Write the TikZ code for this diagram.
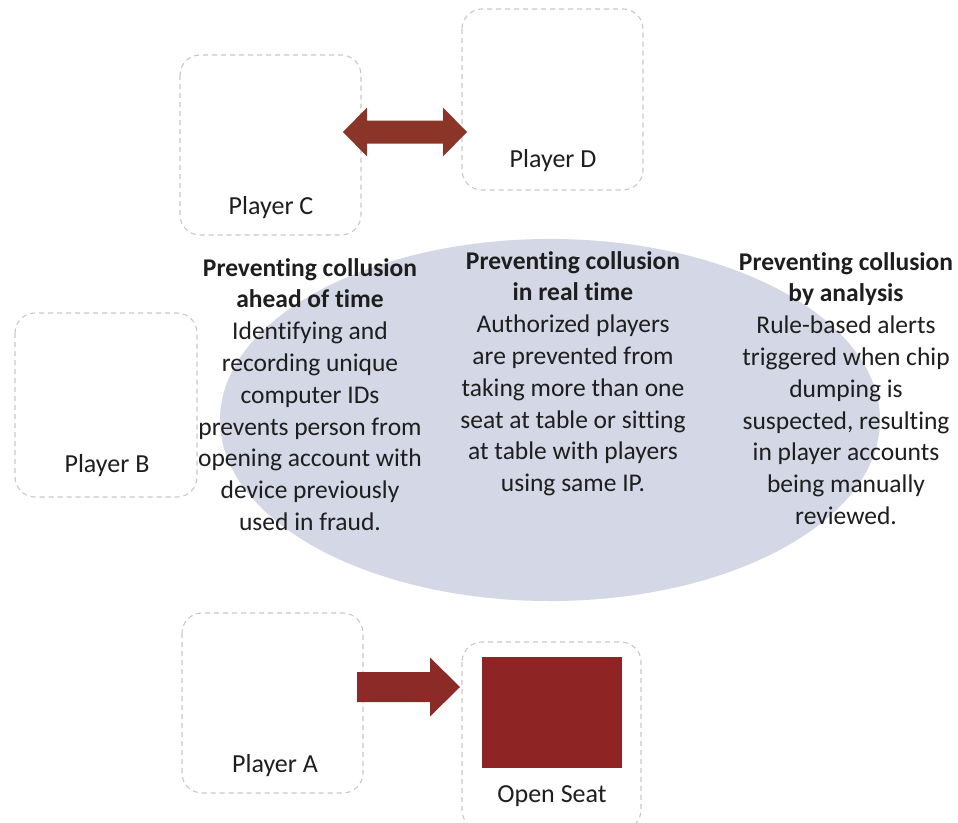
\documentclass[tikz,border=0pt]{standalone}
\usepackage{fontspec}
\setmainfont{Carlito}[Ligatures={NoCommon}]
\usetikzlibrary{shapes.geometric,calc}
\definecolor{ovalfill}{RGB}{212,215,229}
\definecolor{dashgray}{RGB}{200,200,200}
\definecolor{seatred}{RGB}{143,36,36}
\definecolor{arrowred}{RGB}{140,42,40}
\definecolor{darrow}{RGB}{139,52,40}
\definecolor{txt}{RGB}{30,30,30}
\begin{document}
\begin{tikzpicture}[x=1pt,y=-1pt,
  seatbox/.style={draw=dashgray,line width=1.1pt,dash pattern=on 5pt off 4pt,rounded corners=20pt,fill=white},
  lbl/.style={font=\fontsize{26}{31.8}\selectfont,text=txt,inner sep=0pt},
  col/.style={font=\fontsize{25.5}{31.8}\selectfont,text=txt,align=center,inner sep=0pt,anchor=north}]
\useasboundingbox (0,0) rectangle (958,822);
\fill[white] (0,0) rectangle (958,822);
% oval
\node[ellipse,fill=ovalfill,minimum width=660pt,minimum height=362pt,inner sep=0pt] (oval) at (550,420) {};
% boxes
\path[seatbox] (180,55) rectangle (361,235);
\path[seatbox] (462,9) rectangle (643,190);
\path[seatbox] (15,313) rectangle (197,497);
\path[seatbox] (182,613) rectangle (363,793);
\path[seatbox] (462,642) rectangle (641,830);
\node[lbl] (pc) at (271,208) {Player C};
\node[lbl] (pd) at (553,161) {Player D};
\node[lbl] (pb) at (107,466) {Player B};
\node[lbl] (pa) at (275,766) {Player A};
\node[lbl] (os) at (552,796) {Open Seat};
% seat
\fill[seatred] (482,657) rectangle (622,768);
% double arrow C <-> D
\coordinate (cdL) at (343,132);
\coordinate (cdR) at (467,132);
\fill[darrow] (cdL) -- ++(24,-24.5) -- ++(0,13) -- ($(cdR)+(-24,-11.5)$) -- ++(0,-13) -- (cdR)
  -- ++(-24,24.5) -- ++(0,-13) -- ($(cdL)+(24,11.5)$) -- ++(0,13) -- cycle;
% arrow A -> seat
\coordinate (aS) at (357,687);
\coordinate (aT) at (460,687);
\fill[arrowred] ($(aS)+(0,-15)$) -- ($(aT)+(-30,-15)$) -- ($(aT)+(-30,-29.5)$) -- (aT)
  -- ($(aT)+(-30,29.5)$) -- ($(aT)+(-30,15)$) -- ($(aS)+(0,15)$) -- cycle;
% texts
\node[col] (c1) at (310,258) {\textbf{Preventing collusion}\\\textbf{ahead of time}\\Identifying and\\recording unique\\computer IDs\\prevents person from\\opening account with\\device previously\\used in fraud.};
\node[col] (c2) at (573,251) {\textbf{Preventing collusion}\\\textbf{in real time}\\Authorized players\\are prevented from\\taking more than one\\seat at table or sitting\\at table with players\\using same IP.};
\node[col] (c3) at (846,252) {\textbf{Preventing collusion}\\\textbf{by analysis}\\Rule-based alerts\\triggered when chip\\dumping is\\suspected, resulting\\in player accounts\\being manually\\reviewed.};
\end{tikzpicture}
\end{document}
